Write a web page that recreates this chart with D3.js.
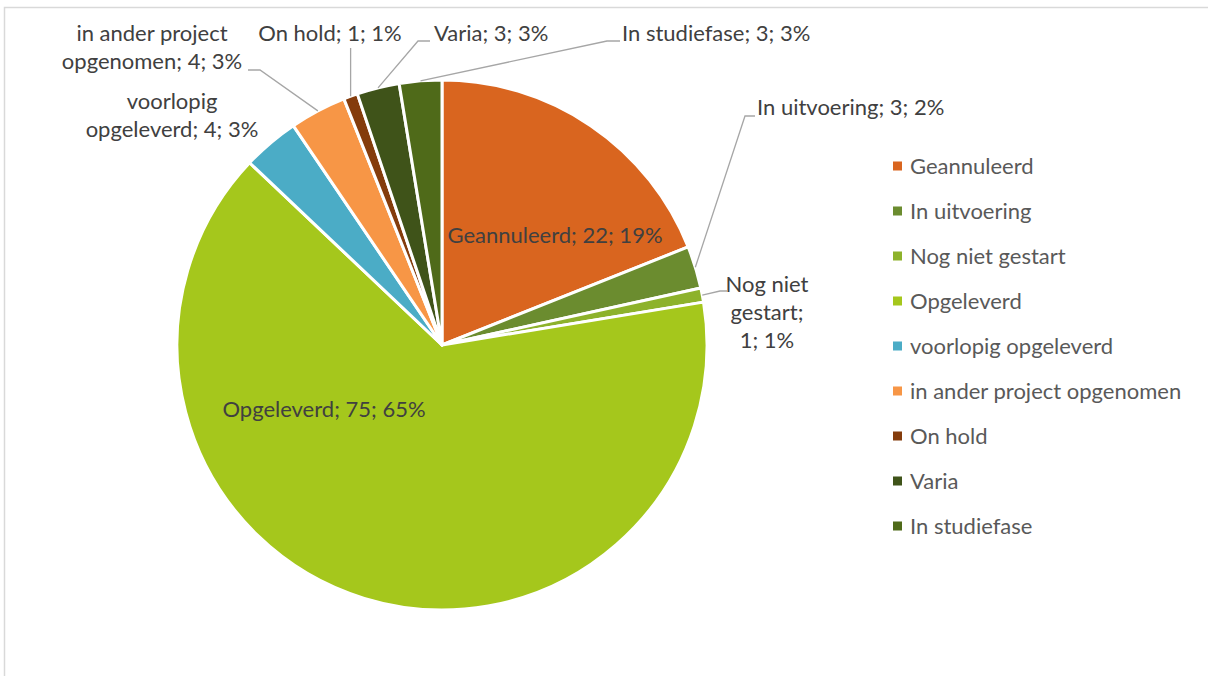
<!DOCTYPE html>
<html>
<head>
<meta charset="utf-8">
<script src="https://cdn.jsdelivr.net/npm/d3@7"></script>
<style>
  body { margin: 0; background: #fff; }
  svg { display: block; font-family: Lato, "Open Sans", sans-serif; }
</style>
</head>
<body>
<svg id="chart"></svg>
<script>
// data
const categories = ["Geannuleerd", "In uitvoering", "Nog niet gestart", "Opgeleverd",
  "voorlopig opgeleverd", "in ander project opgenomen", "On hold", "Varia", "In studiefase"];
const values = [22, 3, 1, 75, 4, 4, 1, 3, 3];
const percentLabels = ["19%", "2%", "1%", "65%", "3%", "3%", "1%", "3%", "3%"];
const colors = ["#D9651F", "#6B8C2F", "#8DB22B", "#A5C71C", "#4BACC6",
  "#F79646", "#843C0C", "#3F5319", "#4F6A19"];

const width = 1208, height = 676;
const cx = 442, cy = 345, radius = 265;

const svg = d3.select("#chart").attr("width", width).attr("height", height);

// chart border
svg.append("rect")
  .attr("x", 4.5).attr("y", 7.5)
  .attr("width", width + 10).attr("height", height + 10)
  .attr("fill", "none")
  .attr("stroke", "#d9d9d9")
  .attr("stroke-width", 1.5);

const data = categories.map((c, i) => ({ name: c, value: values[i], pct: percentLabels[i], color: colors[i] }));

const pie = d3.pie().value(d => d.value).sort(null);
const arcs = pie(data);
const arc = d3.arc().innerRadius(0).outerRadius(radius);

const g = svg.append("g").attr("transform", `translate(${cx},${cy})`);

g.selectAll("path.slice")
  .data(arcs)
  .join("path")
  .attr("class", "slice")
  .attr("d", arc)
  .attr("fill", d => d.data.color)
  .attr("stroke", "#fff")
  .attr("stroke-width", 3)
  .attr("stroke-linejoin", "round");

// label layout (per slice): position, anchor, leader elbow/end
const labelLayout = {
  "Geannuleerd": { x: 555, y: 243, anchor: "middle", lines: ["Geannuleerd; 22; 19%"] },
  "In uitvoering": { x: 757, y: 115, anchor: "start", lines: ["In uitvoering; 3; 2%"], leader: [[745, 116], [755, 116]] },
  "Nog niet gestart": { x: 767, y: 292, anchor: "middle", lines: ["Nog niet", "gestart;", "1; 1%"], leader: [[720, 291], [727, 291]] },
  "Opgeleverd": { x: 324, y: 417, anchor: "middle", lines: ["Opgeleverd; 75; 65%"] },
  "voorlopig opgeleverd": { x: 172, y: 109, anchor: "middle", lines: ["voorlopig", "opgeleverd; 4; 3%"] },
  "in ander project opgenomen": { x: 152, y: 41, anchor: "middle", lines: ["in ander project", "opgenomen; 4; 3%"], leader: [[260, 70], [248, 70]] },
  "On hold": { x: 330, y: 41, anchor: "middle", lines: ["On hold; 1; 1%"], leader: [[0, 48]], vertical: true },
  "Varia": { x: 434, y: 41, anchor: "start", lines: ["Varia; 3; 3%"], leader: [[418, 41], [430, 41]] },
  "In studiefase": { x: 622, y: 41, anchor: "start", lines: ["In studiefase; 3; 3%"], leader: [[607, 41], [620, 41]] }
};

const lineGap = 28;

// leader lines
arcs.forEach(a => {
  const lay = labelLayout[a.data.name];
  if (!lay.leader) return;
  const mid = (a.startAngle + a.endAngle) / 2;
  const px = cx + radius * Math.sin(mid);
  const py = cy - radius * Math.cos(mid);
  let pts = [[px, py]];
  if (lay.vertical) {
    pts.push([px, lay.leader[0][1]]);
  } else {
    pts = pts.concat(lay.leader);
  }
  svg.append("path")
    .attr("d", d3.line()(pts))
    .attr("fill", "none")
    .attr("stroke", "#a6a6a6")
    .attr("stroke-width", 1.3);
});

// data labels
arcs.forEach(a => {
  const lay = labelLayout[a.data.name];
  const t = svg.append("text")
    .attr("x", lay.x).attr("y", lay.y)
    .attr("text-anchor", lay.anchor)
    .attr("fill", "#404040")
    .style("font-size", "22px");
  lay.lines.forEach((ln, i) => {
    t.append("tspan").attr("x", lay.x).attr("y", lay.y + i * lineGap).text(ln);
  });
});

// legend
const legend = svg.append("g").attr("transform", "translate(893,166)");
const item = legend.selectAll("g.item")
  .data(data)
  .join("g")
  .attr("class", "item")
  .attr("transform", (d, i) => `translate(0,${i * 45})`);

item.append("rect")
  .attr("x", 0).attr("y", -4.5)
  .attr("width", 9).attr("height", 9)
  .attr("fill", d => d.color);

item.append("text")
  .attr("x", 17).attr("y", 0).attr("dy", "0.36em")
  .attr("fill", "#595959")
  .style("font-size", "22px")
  .text(d => d.name);
</script>
</body>
</html>
